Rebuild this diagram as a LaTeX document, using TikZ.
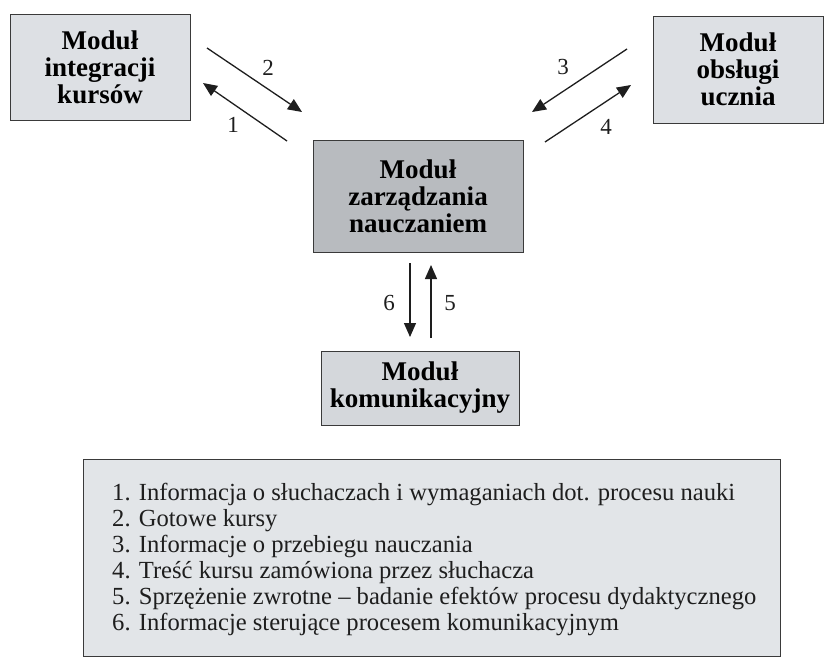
\documentclass[tikz,border=0pt]{standalone}
\usepackage{fontspec}
\setmainfont{Liberation Serif}
\usetikzlibrary{arrows.meta}
\definecolor{lightbox}{HTML}{DDE0E4}
\definecolor{midbox}{HTML}{B8BBBF}
\definecolor{botbox}{HTML}{D4D7DB}
\definecolor{legbox}{HTML}{E2E5E8}
\definecolor{edge}{HTML}{3A3A3A}
\definecolor{ink}{HTML}{1E1E1E}
\tikzset{
  modbox/.style={draw=edge, line width=1pt, inner sep=0pt, align=center,
    font=\fontsize{27}{27}\selectfont\bfseries, text=black},
  arr/.style={draw=ink, line width=1.3pt, -{Triangle[length=14pt,width=12pt]}},
  numlab/.style={font=\fontsize{23}{23}\selectfont, text=ink, inner sep=0pt},
}
\begin{document}
\begin{tikzpicture}[x=1pt,y=-1pt]
\useasboundingbox[fill=white] (0,0) rectangle (825,659);
% modules
\node[modbox, fill=lightbox, minimum width=180pt, minimum height=106pt] (ik) at (100,67) {Moduł\\integracji\\kursów};
\node[modbox, fill=lightbox, minimum width=170pt, minimum height=107pt] (ou) at (738,69.5) {Moduł\\obsługi\\ucznia};
\node[modbox, fill=midbox, minimum width=210pt, minimum height=112pt] (zn) at (418,196) {Moduł\\zarządzania\\nauczaniem};
\node[modbox, fill=botbox, minimum width=198pt, minimum height=74pt] (km) at (420,388) {Moduł\\komunikacyjny};
% arrow end points
\coordinate (a2s) at (207,48);  \coordinate (a2e) at (302,112);
\coordinate (a1s) at (287,141); \coordinate (a1e) at (203,83);
\coordinate (a3s) at (627,49);  \coordinate (a3e) at (532,112);
\coordinate (a4s) at (545,142); \coordinate (a4e) at (631,85);
\coordinate (a6s) at (410,263); \coordinate (a6e) at (410,337);
\coordinate (a5s) at (431,338); \coordinate (a5e) at (431,265);
\draw[arr] (a2s) -- (a2e);
\draw[arr] (a1s) -- (a1e);
\draw[arr] (a3s) -- (a3e);
\draw[arr] (a4s) -- (a4e);
\draw[arr] (a6s) -- (a6e);
\draw[arr] (a5s) -- (a5e);
\node[numlab] (l2) at (268,68) {2};
\node[numlab] (l1) at (233,125) {1};
\node[numlab] (l3) at (563,67) {3};
\node[numlab] (l4) at (606,127) {4};
\node[numlab] (l6) at (389,303) {6};
\node[numlab] (l5) at (450,303) {5};
% legend
\draw[draw=edge, line width=1pt, fill=legbox] (83,459) rectangle (780,656);
\node[anchor=north west, inner sep=0pt, align=left, text=ink,
  font=\fontsize{24.6}{26}\selectfont] (legend) at (112,483)
  {1. Informacja o słuchaczach i wymaganiach dot. procesu nauki\\
   2. Gotowe kursy\\
   3. Informacje o przebiegu nauczania\\
   4. Treść kursu zamówiona przez słuchacza\\
   5. Sprzężenie zwrotne – badanie efektów procesu dydaktycznego\\
   6. Informacje sterujące procesem komunikacyjnym};
\end{tikzpicture}
\end{document}
